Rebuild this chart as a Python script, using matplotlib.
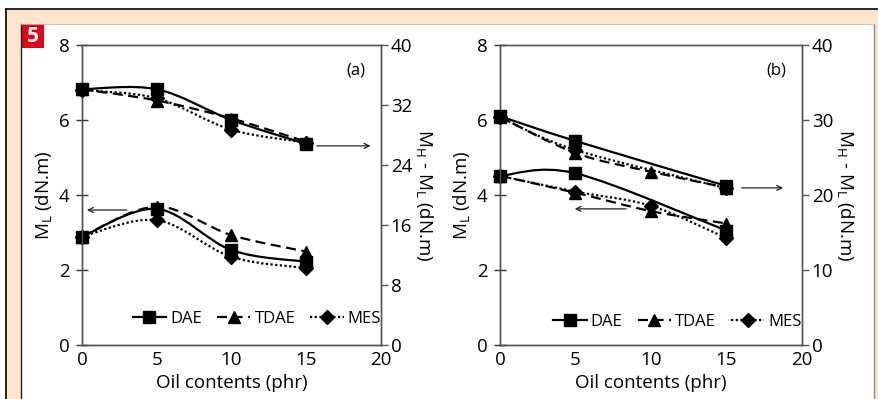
import numpy as np
import matplotlib
matplotlib.use("Agg")
import matplotlib.pyplot as plt
from matplotlib.path import Path
from matplotlib.patches import PathPatch, Rectangle
from matplotlib.lines import Line2D

plt.rcParams['font.family'] = ['Open Sans', 'DejaVu Sans']

# ---- data -------------------------------------------------------------
oil = [0, 5, 10, 15]
oil_3 = [0, 5, 15]

# panel (a)
a_ml_dae = [2.89, 3.63, 2.53, 2.22]
a_ml_tdae = [2.89, 3.69, 2.93, 2.49]
a_ml_mes = [2.89, 3.33, 2.35, 2.05]
a_mh_dae = [34.1, 34.1, 30.0, 26.8]
a_mh_tdae = [34.1, 32.6, 30.2, 27.1]
a_mh_mes = [34.0, 32.9, 28.7, 27.0]

# panel (b)
b_ml_dae = [4.51, 4.58, 3.05]          # at 0, 5, 15 phr
b_ml_tdae = [4.51, 4.06, 3.57, 3.24]
b_ml_mes = [4.51, 4.09, 3.71, 2.85]
b_mh_dae = [30.5, 27.2, 21.2]          # at 0, 5, 15 phr
b_mh_tdae = [30.4, 25.6, 23.1, 21.0]
b_mh_mes = [30.4, 26.0, 20.9]          # at 0, 5, 15 phr

series_names = ['DAE', 'TDAE', 'MES']
x_ticks = [0, 5, 10, 15, 20]
ml_ticks = [0, 2, 4, 6, 8]
a_mh_ticks = [0, 8, 16, 24, 32, 40]
b_mh_ticks = [0, 10, 20, 30, 40]

# ---- styles -----------------------------------------------------------
styles = {
    'DAE': dict(ls='-', marker='s', ms=8.5),
    'TDAE': dict(ls=(0, (4.5, 2.5)), marker='^', ms=9),
    'MES': dict(ls=(0, (1, 1.1)), marker='D', ms=7),
}
LW = 1.6
PEACH = '#fde6cc'
FS = 13.5

W, H = 879, 399
fig = plt.figure(figsize=(W / 100, H / 100), dpi=100, facecolor='white')

# frame decoration in pixel space
bg = fig.add_axes([0, 0, 1, 1], zorder=-5)
bg.set_xlim(0, W)
bg.set_ylim(H, 0)
bg.axis('off')
bg.add_patch(Rectangle((6, 9), W - 6, H - 9, facecolor=PEACH, edgecolor='none'))
bg.add_patch(Rectangle((21, 24), 874 - 21, H - 24, facecolor='white', edgecolor='none'))
bg.plot([6, W], [9, 9], color='black', lw=1.2)
bg.plot([6, 6], [9, H], color='black', lw=1.2)
bg.plot([21, 21], [24, H], color='#222222', lw=1.0)
bg.plot([874, 874], [24, H], color='#888888', lw=1.0)
bg.plot([21, 874], [24, 24], color='#bbbbbb', lw=0.6)
bg.add_patch(Rectangle((21, 24), 23, 24, facecolor='#e2001a', edgecolor='none'))
bg.text(32.5, 36, '5', color='white', fontsize=15, fontweight='bold',
        ha='center', va='center')


def smooth_path(xs, ys):
    pts = np.column_stack([xs, ys]).astype(float)
    n = len(pts)
    verts = [pts[0]]
    codes = [Path.MOVETO]
    for i in range(n - 1):
        p0 = pts[i - 1] if i > 0 else pts[i]
        p1 = pts[i]
        p2 = pts[i + 1]
        p3 = pts[i + 2] if i + 2 < n else pts[i + 1]
        c1 = p1 + (p2 - p0) / 6.0
        c2 = p2 - (p3 - p1) / 6.0
        verts += [c1, c2, p2]
        codes += [Path.CURVE4] * 3
    return Path(verts, codes)


def draw_series(ax, xs, ys, name):
    st = styles[name]
    patch = PathPatch(smooth_path(xs, ys), fill=False, edgecolor='black',
                      lw=LW, linestyle=st['ls'], transform=ax.transData,
                      capstyle='butt', zorder=3)
    ax.add_patch(patch)
    ax.plot(xs, ys, ls='none', marker=st['marker'], ms=st['ms'],
            color='black', zorder=4, clip_on=False)


def px_to_fig(x0, x1, y0, y1):
    return [x0 / W, 1 - y1 / H, (x1 - x0) / W, (y1 - y0) / H]


def make_panel(rect, mh_ticks, tag, ml_sets, mh_sets, arrows, leg_x, leg_y):
    ax = fig.add_axes(rect)
    ax2 = ax.twinx()
    ax.set_xlim(0, 20)
    ax.set_ylim(0, 8)
    ax2.set_ylim(0, 40)
    ax.set_xticks(x_ticks)
    ax.set_yticks(ml_ticks)
    ax2.set_yticks(mh_ticks)
    for a in (ax, ax2):
        for s in a.spines.values():
            s.set_color('#555555')
            s.set_linewidth(1.0)
        a.set_facecolor('none')
    ax.spines['left'].set_color('#333333')
    ax.spines['bottom'].set_color('#333333')
    ax.tick_params(axis='x', length=0, labelsize=FS, pad=4)
    ax.tick_params(axis='y', direction='inout', length=8, width=1.0,
                   color='#333333', labelsize=FS, pad=5)
    ax2.tick_params(axis='y', direction='out', length=5, width=1.0,
                    color='#555555', labelsize=FS, pad=2)
    ax.set_xlabel('Oil contents (phr)', fontsize=FS, labelpad=4)
    ax.set_ylabel('M$_{\\mathregular{L}}$ (dN.m)', fontsize=FS, labelpad=3)
    ax2.set_ylabel('M$_{\\mathregular{H}}$ - M$_{\\mathregular{L}}$ (dN.m)',
                   fontsize=FS, rotation=-90, labelpad=16)
    ax.text(0.915, 0.915, tag, transform=ax.transAxes, fontsize=12,
            ha='center', va='center')

    for xs, ys, name in ml_sets:
        draw_series(ax, xs, ys, name)
    for xs, ys, name in mh_sets:
        draw_series(ax2, xs, ys, name)

    for (xa, xb, yy) in arrows:
        ax.annotate('', xy=(xb, yy), xytext=(xa, yy),
                    arrowprops=dict(arrowstyle='->', color='#222222',
                                    lw=0.9, shrinkA=0, shrinkB=0,
                                    mutation_scale=9))

    handles = [Line2D([], [], color='black', lw=LW, ls=styles[n]['ls'],
                      marker=styles[n]['marker'], ms=styles[n]['ms'])
               for n in series_names]
    ax2.legend(handles, series_names, loc='center', ncol=3, frameon=False,
               bbox_to_anchor=(leg_x, leg_y), fontsize=12,
               handlelength=2.0, handletextpad=0.25, columnspacing=0.9,
               borderaxespad=0)
    return ax, ax2


make_panel(px_to_fig(82, 381, 45, 345), a_mh_ticks, '(a)',
           [(oil, a_ml_dae, 'DAE'), (oil, a_ml_tdae, 'TDAE'), (oil, a_ml_mes, 'MES')],
           [(oil, a_mh_dae, 'DAE'), (oil, a_mh_tdae, 'TDAE'), (oil, a_mh_mes, 'MES')],
           [(15.7, 19.3, 5.31), (3.0, 0.33, 3.6)],
           0.585, 0.087)

make_panel(px_to_fig(500, 802, 45, 345), b_mh_ticks, '(b)',
           [(oil_3, b_ml_dae, 'DAE'), (oil, b_ml_tdae, 'TDAE'), (oil, b_ml_mes, 'MES')],
           [(oil_3, b_mh_dae, 'DAE'), (oil, b_mh_tdae, 'TDAE'), (oil_3, b_mh_mes, 'MES')],
           [(16.0, 18.75, 4.19), (8.35, 4.95, 3.63)],
           0.588, 0.078)

fig.savefig('out.png', dpi=100, facecolor='white')
